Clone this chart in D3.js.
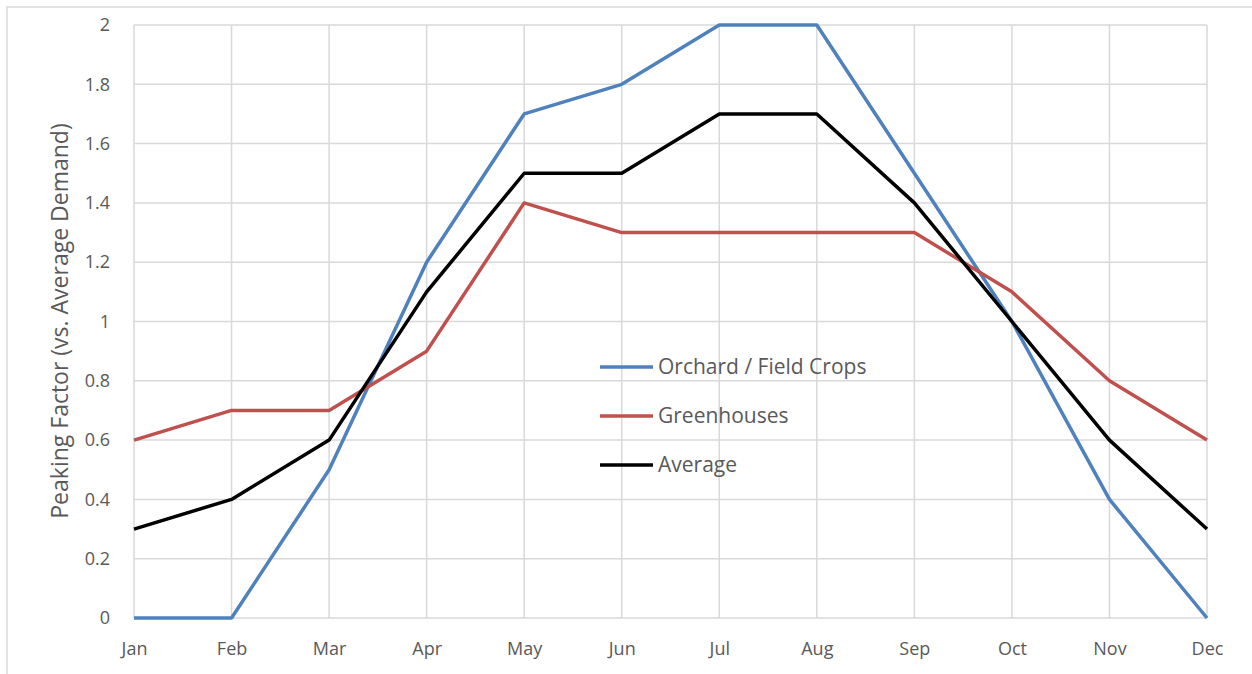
<!DOCTYPE html>
<html>
<head>
<meta charset="utf-8">
<script src="https://cdn.jsdelivr.net/npm/d3@7"></script>
<style>
body{margin:0;background:#fff;}
text{font-family:"Open Sans","Noto Sans",sans-serif;fill:#595959;}
</style>
</head>
<body>
<svg id="chart" width="1252" height="674"></svg>
<script>
var months=["Jan","Feb","Mar","Apr","May","Jun","Jul","Aug","Sep","Oct","Nov","Dec"]
var yTicks=[0,0.2,0.4,0.6,0.8,1,1.2,1.4,1.6,1.8,2]
var orchard=[0,0,0.5,1.2,1.7,1.8,2,2,1.5,1,0.4,0]
var greenhouses=[0.6,0.7,0.7,0.9,1.4,1.3,1.3,1.3,1.3,1.1,0.8,0.6]
var average=[0.3,0.4,0.6,1.1,1.5,1.5,1.7,1.7,1.4,1,0.6,0.3]
var seriesNames=["Orchard / Field Crops","Greenhouses","Average"]
var colors=["#4F81BD","#C0504D","#000000"]

var svg=d3.select("#chart")
//---outer chart border---
svg.append("rect").attr("x",7).attr("y",7).attr("width",1260).attr("height",680)
  .attr("fill","#fff").attr("stroke","#d9d9d9").attr("stroke-width",1.5)

var plotL=134,plotR=1207,plotT=25,plotB=618
var x=d3.scalePoint().domain(months).range([plotL,plotR])
var y=d3.scaleLinear().domain([0,2]).range([plotB,plotT])

//---grid---
svg.append("g").selectAll("line").data(yTicks).join("line")
  .attr("x1",plotL).attr("x2",plotR).attr("y1",d=>y(d)).attr("y2",d=>y(d))
  .attr("stroke","#d9d9d9").attr("stroke-width",1.5)
svg.append("g").selectAll("line").data(months).join("line")
  .attr("x1",d=>x(d)).attr("x2",d=>x(d)).attr("y1",plotT).attr("y2",plotB)
  .attr("stroke","#d9d9d9").attr("stroke-width",1.5)

//---axes (labels only)---
var yAxis=svg.append("g").attr("transform","translate("+plotL+",0)")
  .call(d3.axisLeft(y).tickValues(yTicks).tickSize(0).tickPadding(24).tickFormat(d3.format("~g")))
yAxis.select(".domain").remove()
yAxis.selectAll("text").attr("font-size",18).attr("fill","#595959").attr("font-family","\"Open Sans\",sans-serif")

var xAxis=svg.append("g").attr("transform","translate(0,"+plotB+")")
  .call(d3.axisBottom(x).tickSize(0).tickPadding(24))
xAxis.select(".domain").remove()
xAxis.selectAll("text").attr("font-size",18).attr("fill","#595959").attr("font-family","\"Open Sans\",sans-serif")

svg.append("text").attr("transform","translate(60,321) rotate(-90)")
  .attr("text-anchor","middle").attr("dy","0.35em").attr("font-size",23)
  .text("Peaking Factor (vs. Average Demand)")

//---lines---
var line=d3.line().x((d,i)=>x(months[i])).y(d=>y(d))
var allSeries=[orchard,greenhouses,average]
svg.append("g").selectAll("path").data(allSeries).join("path")
  .attr("d",line).attr("fill","none")
  .attr("stroke",(d,i)=>colors[i]).attr("stroke-width",3.5)
  .attr("stroke-linejoin","round")

//---legend---
var lg=svg.append("g").selectAll("g").data(seriesNames).join("g")
  .attr("transform",(d,i)=>"translate(600,"+(367+i*49)+")")
lg.append("line").attr("x1",0).attr("x2",53)
  .attr("stroke",(d,i)=>colors[i]).attr("stroke-width",3.5)
lg.append("text").attr("x",58).attr("dy","0.35em").attr("font-size",21).text(d=>d)
</script>
</body>
</html>
